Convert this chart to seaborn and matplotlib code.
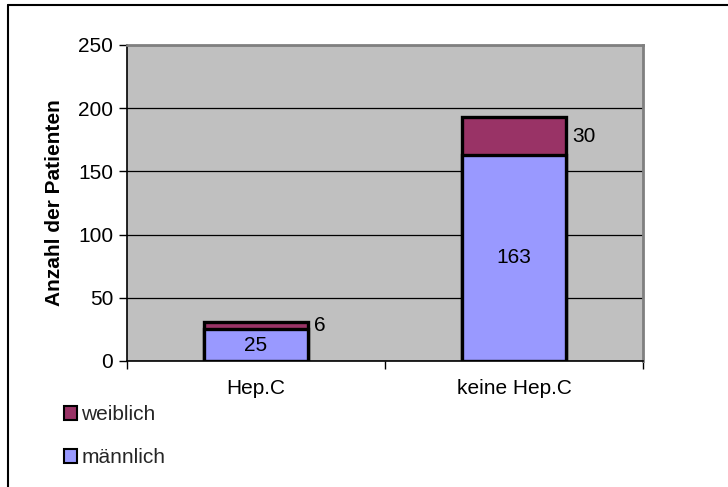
import matplotlib
matplotlib.use("Agg")
import matplotlib.pyplot as plt
from matplotlib.lines import Line2D
from matplotlib.patches import Patch
import seaborn as sns
import pandas as pd

# Patient counts by group and sex
groups = ["Hep.C", "keine Hep.C"]
maennlich = [25, 163]
weiblich = [6, 30]
y_ticks = [0, 50, 100, 150, 200, 250]

col_m = "#9999FF"
col_w = "#993366"

sns.set_theme(style="white")
plt.rcParams["font.family"] = ["Liberation Sans", "DejaVu Sans"]
fs = 15

df = pd.DataFrame({
    "Gruppe": groups,
    "männlich": maennlich,
    "weiblich": weiblich,
})
df["gesamt"] = df["männlich"] + df["weiblich"]

fig = plt.figure(figsize=(7.28, 4.87), dpi=100)
ax = fig.add_axes([127 / 728, 1 - 361 / 487, 516 / 728, 316 / 487])
ax.set_facecolor("#C0C0C0")

# Stacked bars: totals (female on top), male segment drawn over them
sns.barplot(data=df, x="Gruppe", y="gesamt", color=col_w, saturation=1,
            width=0.4, edgecolor="black", linewidth=2.4, ax=ax, zorder=3)
sns.barplot(data=df, x="Gruppe", y="männlich", color=col_m, saturation=1,
            width=0.4, edgecolor="black", linewidth=2.4, ax=ax, zorder=4)

ax.set_ylim(0, 250)
ax.set_xlim(-0.5, 1.5)
ax.set_yticks(y_ticks)
ax.set_yticklabels([str(v) for v in y_ticks], fontsize=fs, color="black")
ax.yaxis.grid(True, color="black", linewidth=0.9)
ax.set_axisbelow(True)

ax.set_xticks(range(len(groups)))
ax.set_xticklabels(groups, fontsize=fs, color="black")
ax.set_xticks([-0.5, 0.5, 1.5], minor=True)
ax.tick_params(axis="x", which="major", length=0, pad=13)
ax.tick_params(axis="x", which="minor", length=6, width=1, color="black",
               direction="out", bottom=True)
ax.tick_params(axis="y", length=6, width=1, color="black", direction="out",
               left=True, pad=4)

ax.set_xlabel("")
ax.set_ylabel("Anzahl der Patienten", fontsize=fs, fontweight="bold",
              color="black", labelpad=10)

for side in ["top", "right"]:
    ax.spines[side].set_color("#808080")
    ax.spines[side].set_linewidth(2)
for side in ["left", "bottom"]:
    ax.spines[side].set_color("black")
    ax.spines[side].set_linewidth(1.2)

# Value labels
for i, (m, w) in enumerate(zip(maennlich, weiblich)):
    ax.text(i, m / 2, str(m), ha="center", va="center", fontsize=fs,
            color="black", zorder=6)
    ax.text(i + 0.225, m + w / 2, str(w), ha="left", va="center",
            fontsize=fs, color="black", zorder=6)

handles = [Patch(facecolor=col_w, edgecolor="black", linewidth=1.5),
           Patch(facecolor=col_m, edgecolor="black", linewidth=1.5)]
fig.legend(handles, ["weiblich", "männlich"], loc="upper left",
           bbox_to_anchor=(54 / 728, 1 - 395 / 487), frameon=False,
           fontsize=fs, handlelength=0.6, handleheight=0.6,
           handletextpad=0.2, labelspacing=1.15, borderpad=0)

# Outer frame of the chart area
fig.add_artist(Line2D([8 / 728, 8 / 728], [0, 1 - 5 / 487],
                      transform=fig.transFigure, color="black", linewidth=1.5))
fig.add_artist(Line2D([8 / 728, 1], [1 - 5 / 487, 1 - 5 / 487],
                      transform=fig.transFigure, color="black", linewidth=1.5))

fig.savefig("out.png", dpi=100, facecolor="white")
